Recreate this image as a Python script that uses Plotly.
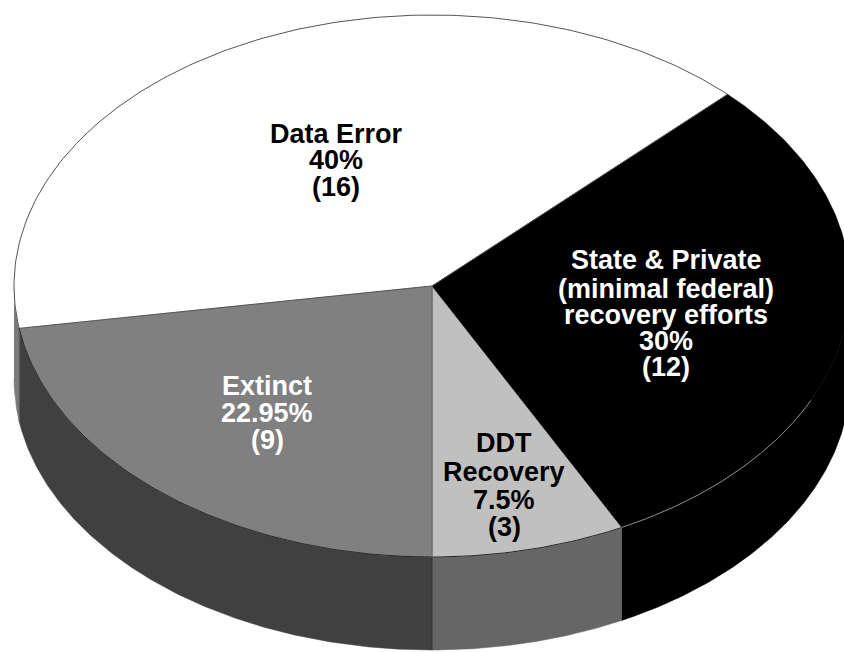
import numpy as np
import plotly.graph_objects as go

# Survey results: counts per outcome, listed counter-clockwise from the first slice
categories = ["Data Error", "Extinct", "DDT Recovery", "State & Private"]
counts = [16, 9, 3, 12]
label_lines = [
    ["Data Error", "40%", "(16)"],
    ["Extinct", "22.95%", "(9)"],
    ["DDT", "Recovery", "7.5%", "(3)"],
    ["State & Private", "(minimal federal)", "recovery efforts", "30%", "(12)"],
]

# Tilted-disc geometry, in plot units
CX, CY, RX, RY, DEPTH = 432, 286, 418, 271, 93
START_ANGLE = 45

top_colors = ["#ffffff", "#808080", "#c0c0c0", "#000000"]
side_colors = ["#7a7a7a", "#404040", "#666666", "#000000"]
text_colors = ["#000000", "#ffffff", "#000000", "#ffffff"]

# Label block placement: centre x and the y of each line
label_x = [336, 267, 504, 666]
label_y = [
    [134, 160, 187],
    [386, 413, 440],
    [443, 472, 500, 527],
    [260, 289, 315, 341, 367],
]


def rim(a0, a1, drop=0.0, n=160):
    t = np.radians(np.linspace(a0, a1, n))
    return CX + RX * np.cos(t), CY - RY * np.sin(t) + drop


fig = go.Figure()
shares = np.array(counts) / sum(counts) * 360
edges = START_ANGLE + np.concatenate([[0], np.cumsum(shares)])

# Outer wall first: only the front half of the disc shows it
for i in range(len(counts)):
    a0, a1 = max(edges[i], 180), min(edges[i + 1], 360)
    if a1 <= a0:
        continue
    xt, yt = rim(a0, a1)
    xb, yb = rim(a1, a0, DEPTH)
    fig.add_trace(go.Scatter(
        x=np.r_[xt, xb], y=np.r_[yt, yb], mode="lines", fill="toself",
        fillcolor=side_colors[i], line=dict(color=side_colors[i], width=0.5),
        hoverinfo="skip", showlegend=False,
    ))

# Wall seams below the slice corners
for i, a in enumerate(edges[1:3]):
    xs, ys = rim(a, a, n=1)
    fig.add_trace(go.Scatter(
        x=[xs[0], xs[0]], y=[ys[0], ys[0] + DEPTH], mode="lines",
        line=dict(color=["#666666", "#303030"][i], width=1),
        hoverinfo="skip", showlegend=False,
    ))

# Top face of each slice
for i in range(len(counts)):
    xa, ya = rim(edges[i], edges[i + 1])
    fig.add_trace(go.Scatter(
        x=np.r_[CX, xa, CX], y=np.r_[CY, ya, CY], mode="lines", fill="toself",
        fillcolor=top_colors[i], line=dict(color=top_colors[i], width=0.5),
        hoverinfo="skip", showlegend=False,
    ))

# Fine outlines: white slice rim and radii, front rim of the top face
xa, ya = rim(edges[0], edges[1])
fig.add_trace(go.Scatter(
    x=np.r_[CX, xa, CX], y=np.r_[CY, ya, CY], mode="lines",
    line=dict(color="#555555", width=1), hoverinfo="skip", showlegend=False,
))
xa, ya = rim(edges[1], edges[3])
fig.add_trace(go.Scatter(
    x=xa, y=ya, mode="lines", line=dict(color="#2a2a2a", width=1),
    hoverinfo="skip", showlegend=False,
))
xa, ya = rim(edges[3], edges[3] + 38)
fig.add_trace(go.Scatter(
    x=xa, y=ya, mode="lines", line=dict(color="#8c8c8c", width=1),
    hoverinfo="skip", showlegend=False,
))
xa, ya = rim(edges[2], edges[2], n=1)
fig.add_trace(go.Scatter(
    x=[CX, xa[0]], y=[CY, ya[0]], mode="lines",
    line=dict(color="#6a6a6a", width=1.5), hoverinfo="skip", showlegend=False,
))

# Slice labels, one annotation per line for the tight leading
annotations = []
for lines, x, ys, color in zip(label_lines, label_x, label_y, text_colors):
    for line, y in zip(lines, ys):
        annotations.append(dict(
            x=x, y=y, text=f"<b>{line}</b>", showarrow=False,
            xanchor="center", yanchor="middle",
            font=dict(family="Liberation Sans", size=27, color=color),
        ))

fig.update_layout(
    width=844, height=652, margin=dict(l=0, r=0, t=0, b=0),
    paper_bgcolor="white", plot_bgcolor="white",
    xaxis=dict(range=[0, 844], visible=False, fixedrange=True),
    yaxis=dict(range=[652, 0], visible=False, fixedrange=True),
    annotations=annotations, showlegend=False,
)
fig.write_html("out.html")
